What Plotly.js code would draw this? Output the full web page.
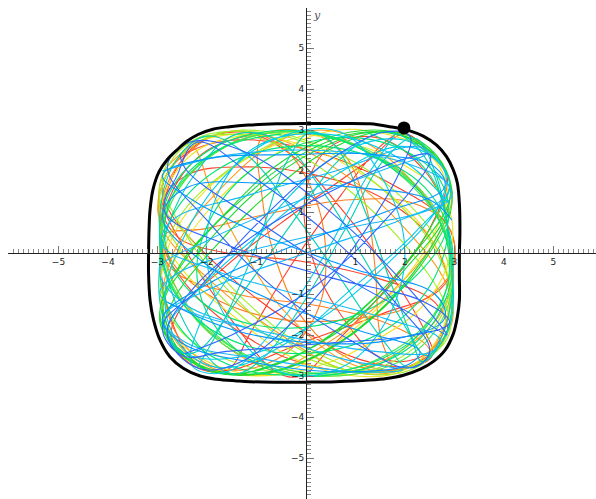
<!DOCTYPE html>
<html>
<head>
<meta charset="utf-8">
<script src="https://cdn.plot.ly/plotly-3.0.1.min.js"></script>
<style>
  html, body { margin: 0; padding: 0; background: #fff; }
  #plot { width: 596px; height: 499px; }
</style>
</head>
<body>
<div id="plot"></div>
<script>
// Tick labels on both axes (0 is left unlabelled)
const tickValues = [-5, -4, -3, -2, -1, 1, 2, 3, 4, 5];
const tickLabels = ['\u22125', '\u22124', '\u22123', '\u22122', '\u22121', '1', '2', '3', '4', '5'];

// Energy boundary curve (closed, clockwise from the top)
const boundary = [
  [0, 3.16], [0.6, 3.16], [1.29, 3.15], [1.70, 3.08], [2.10, 2.98], [2.37, 2.85],
  [2.64, 2.63], [2.84, 2.35], [2.98, 2.02], [3.06, 1.70], [3.10, 1.2], [3.11, 0.5],
  [3.10, 0], [3.10, -0.6], [3.10, -1.15], [3.06, -1.55], [2.98, -1.96], [2.81, -2.37],
  [2.57, -2.65], [2.30, -2.84], [1.97, -2.98], [1.63, -3.06], [1.29, -3.10], [0.6, -3.14],
  [0, -3.15], [-0.6, -3.15], [-1.13, -3.14], [-1.40, -3.12], [-1.80, -3.08], [-2.14, -3.0],
  [-2.48, -2.81], [-2.75, -2.53], [-2.95, -2.12], [-3.08, -1.63], [-3.15, -1.15], [-3.18, -0.5],
  [-3.18, 0], [-3.17, 0.6], [-3.15, 1.05], [-3.09, 1.55], [-2.97, 1.98], [-2.80, 2.28],
  [-2.60, 2.52], [-2.40, 2.73], [-2.18, 2.89], [-1.88, 3.02], [-1.54, 3.08], [-1.17, 3.12],
  [-0.6, 3.15], [0, 3.16]
];

// Starting point of the particle (at rest on the boundary)
const startPoint = [1.98, 3.05];

// Trajectory pieces, grouped by colour
const redPath = [
  [1.97, 3.02], [1.5, 2.6], [0.7, 1.4], [-0.3, -0.3], [-1.1, -1.9], [-1.6, -2.85], [-2.2, -2.7],
  [-2.7, -1.7], [-2.95, 0.1], [-2.75, 1.7], [-2.2, 2.65], [-1.3, 2.95], [-0.3, 2.4], [0.7, 1.1],
  [1.7, -0.5], [2.4, -1.9], [2.55, -2.5], [2.2, -2.75], [1.1, -2.6], [-0.3, -1.7], [-1.7, -0.4],
  [-2.75, 1.0], [-2.9, 1.6], [-2.5, 2.35], [-1.5, 2.75], [0.1, 2.5], [1.7, 1.7], [2.85, 0.7],
  [3.0, -0.2], [2.7, -0.9], [1.5, -1.5], [-0.1, -2.2], [-1.5, -2.85], [-2.1, -2.85], [-2.7, -2.2],
  [-2.6, -1.5], [-1.6, -0.3], [-0.2, 1.0], [1.2, 2.2], [2.0, 2.9], [2.5, 2.4], [2.85, 1.9],
  [2.5, 0.6], [1.6, -0.9], [0.5, -2.3], [-0.1, -3.0], [-0.6, -2.9], [-1.4, -1.8], [-2.3, -0.2],
  [-2.95, 1.2]
];

const redPath2 = [
  [2.9, 0.9], [2.4, 2.0], [1.5, 2.8], [0.5, 2.6], [0.0, 1.5], [0.1, 0.0], [0.7, -1.5],
  [1.6, -2.6], [2.5, -2.4], [2.9, -1.3], [2.6, 0.2], [1.6, 1.3], [0.2, 1.9], [-1.2, 2.1],
  [-2.4, 1.9], [-2.9, 1.2], [-2.6, 0.4], [-1.6, 0.0], [-0.1, -0.2], [1.4, -0.6], [2.6, -1.2],
  [2.85, -1.95], [2.2, -2.7], [1.0, -2.9], [-0.3, -2.6], [-1.5, -1.8], [-2.4, -0.8], [-2.9, 0.3],
  [-2.7, 1.5], [-2.0, 2.5], [-1.0, 2.9]
];

const orangePath = [
  [2.1, 2.85], [2.55, 2.4], [2.95, 1.5], [2.6, 0.3], [1.6, -1.1], [0.3, -2.3], [-0.8, -2.95],
  [-1.8, -2.85], [-2.6, -2.2], [-2.9, -1.2], [-2.6, 0.2], [-1.7, 1.6], [-0.6, 2.7], [0.3, 3.0],
  [1.2, 2.7], [2.1, 1.8], [2.9, 0.2], [2.9, -1.4], [2.5, -2.4], [1.8, -2.9], [0.8, -2.85],
  [-0.5, -2.0], [-2.0, -0.6], [-2.9, 0.6], [-2.95, 1.5], [-2.4, 2.5], [-1.6, 2.95], [-0.6, 2.8],
  [0.8, 1.9], [2.0, 0.6], [2.85, -0.8], [2.95, -1.7], [2.55, -2.35], [1.9, -2.85], [0.9, -2.7],
  [-0.3, -1.6], [-1.2, -0.1], [-1.9, 1.5], [-2.3, 2.6], [-2.55, 2.4], [-2.9, 1.9], [-2.95, 0.6],
  [-2.6, -0.9], [-1.8, -2.1], [-0.6, -2.9], [0.6, -2.95], [1.9, -2.4], [2.8, -1.3], [2.9, 0.0],
  [2.4, 1.4], [1.2, 2.5], [0.0, 3.0]
];

const orangePath2 = [
  [-2.9, -0.8], [-2.6, -2.0], [-1.8, -2.8], [-0.6, -2.6], [0.2, -1.5], [0.4, 0.0], [0.1, 1.6],
  [-0.6, 2.7], [-1.6, 2.95], [-2.4, 2.4], [-2.9, 1.3], [-2.8, 0.0], [-2.0, -1.0], [-0.6, -1.6],
  [1.0, -1.6], [2.3, -1.2], [2.95, -0.4], [2.9, 0.6], [2.2, 1.2], [0.9, 1.3], [-0.6, 1.0],
  [-2.0, 0.6], [-2.9, 0.4], [-2.7, -0.4], [-1.4, -1.0], [0.3, -1.3], [1.8, -1.8], [2.5, -2.4],
  [1.9, -2.85], [0.9, -2.6], [0.0, -1.7], [-0.6, -0.2], [-0.9, 1.5], [-0.9, 2.8], [-0.2, 3.0],
  [0.7, 2.5], [1.2, 1.2], [1.4, -0.4], [1.5, -2.0], [1.8, -2.9]
];

const yellowPath = [
  [-2.5, 2.6], [-1.4, 2.9], [0.0, 2.6], [1.4, 1.7], [2.5, 0.4], [2.9, -0.8], [2.7, -2.0],
  [2.0, -2.85], [1.0, -3.0], [-0.2, -2.6], [-1.4, -1.6], [-2.5, -0.4], [-2.95, 0.6], [-2.8, 1.6],
  [-2.2, 2.5], [-1.0, 2.9], [0.5, 2.8], [1.9, 2.2], [2.8, 1.3], [2.95, 0.2], [2.5, -1.1],
  [1.3, -2.2], [-0.2, -2.9], [-1.5, -2.95], [-2.5, -2.5], [-2.9, -1.5], [-2.7, -0.3], [-2.0, 1.0],
  [-0.9, 2.2], [0.4, 2.95], [1.4, 2.95], [2.4, 2.5], [2.85, 1.6], [2.6, 0.5], [1.8, -0.9],
  [0.7, -2.1], [-0.6, -2.95], [-1.9, -2.7], [-2.8, -1.8], [-2.9, -0.4], [-2.4, 1.0], [-1.2, 2.3],
  [0.2, 2.95]
];

const limePath = [
  [2.9, -1.8], [2.3, -2.75], [1.2, -2.95], [-0.2, -2.3], [-1.5, -1.0], [-2.5, 0.6], [-2.9, 1.8],
  [-2.5, 2.6], [-1.5, 2.9], [-0.3, 2.5], [0.9, 1.5], [2.0, 0.2], [2.8, -1.2], [2.9, -1.95],
  [2.4, -2.6], [1.4, -2.9], [0.0, -2.3], [-1.2, -1.2], [-2.3, 0.3], [-2.95, 1.3], [-2.8, 2.1],
  [-2.2, 2.8], [-1.0, 2.95], [0.4, 2.5], [1.6, 1.5], [2.6, 0.1], [2.95, -1.2], [2.7, -2.3],
  [1.9, -2.85], [0.6, -2.8], [-0.8, -2.0], [-2.0, -0.7], [-2.85, 0.7], [-2.95, 1.4], [-2.6, 2.3],
  [-1.8, 2.9], [-0.7, 2.95], [0.7, 2.4], [1.9, 1.4], [2.8, 0.0], [2.9, -1.0], [2.3, -2.2],
  [1.2, -2.9], [-0.3, -2.95], [-1.6, -2.6], [-2.6, -1.8], [-2.95, -0.6], [-2.6, 0.8], [-1.6, 2.0],
  [-0.3, 2.9]
];

const greenPath = [
  [-2.9, -1.3], [-2.6, -2.3], [-1.9, -2.9], [-0.8, -2.8], [0.5, -2.0], [1.7, -0.7], [2.6, 0.8],
  [2.9, 1.8], [2.45, 2.45], [1.7, 2.95], [0.6, 2.6], [-0.6, 1.6], [-1.8, 0.2], [-2.7, -1.2],
  [-2.85, -1.95], [-2.4, -2.6], [-1.5, -2.95], [-0.2, -2.5], [1.1, -1.4], [2.2, 0.0], [2.9, 1.3],
  [2.8, 2.05], [2.2, 2.75], [1.2, 2.95], [-0.1, 2.4], [-1.3, 1.3], [-2.4, -0.1], [-2.95, -1.4],
  [-2.7, -2.2], [-2.0, -2.85], [-0.9, -2.95], [0.4, -2.4], [1.6, -1.3], [2.6, 0.2], [2.95, 1.2],
  [2.75, 2.2], [2.1, 2.85], [0.9, 2.95], [-0.4, 2.3], [-1.6, 1.0], [-2.6, -0.4], [-2.95, -1.7],
  [-2.45, -2.45], [-1.7, -2.95], [-0.4, -2.6], [0.9, -1.7], [2.0, -0.4], [2.85, 1.0], [2.85, 1.95],
  [2.3, 2.65], [1.4, 2.95], [0.2, 2.5], [-1.0, 1.5], [-2.1, 0.1], [-2.85, -1.1], [-2.8, -2.05],
  [-2.2, -2.7], [-1.1, -2.95], [0.2, -2.5], [1.4, -1.5], [2.4, -0.1], [2.9, 1.0]
];

const greenLoopPath = [
  [2.9, -1.0], [2.0, -2.2], [0.6, -2.9], [-0.8, -2.7], [-2.0, -1.8], [-2.8, -0.4], [-2.9, 0.8],
  [-2.3, 2.0], [-1.2, 2.8], [0.2, 2.9], [1.5, 2.3], [2.5, 1.2], [2.95, -0.2], [2.8, -1.5],
  [2.1, -2.5], [1.0, -2.95], [-0.4, -2.9], [-1.7, -2.2], [-2.6, -1.0], [-2.95, 0.2], [-2.6, 1.5],
  [-1.8, 2.5], [-0.6, 2.95], [0.8, 2.7], [2.0, 1.8], [2.8, 0.5], [2.9, -0.6], [2.4, -1.8],
  [1.5, -2.7], [0.2, -2.95], [-1.2, -2.5], [-2.3, -1.5], [-2.9, -0.3], [-2.8, 1.0], [-2.1, 2.2],
  [-0.9, 2.9], [0.5, 2.85], [1.8, 2.1], [2.7, 0.9], [2.95, -0.4]
];

const springPath = [
  [-0.5, 2.9], [-1.8, 2.5], [-2.7, 1.4], [-2.8, 0.0], [-2.1, -1.2], [-0.8, -1.8], [0.8, -1.6],
  [2.1, -0.7], [2.85, 0.6], [2.7, 1.8], [1.8, 2.6], [0.5, 2.8], [-0.9, 2.2], [-1.9, 0.9],
  [-2.2, -0.6], [-1.7, -2.0], [-0.6, -2.9], [0.9, -2.9], [2.1, -2.3], [2.8, -1.2], [2.95, 0.2],
  [2.4, 1.6], [1.2, 2.4], [-0.3, 2.6], [-1.7, 2.1], [-2.7, 0.9], [-2.95, -0.5], [-2.5, -1.9],
  [-1.4, -2.8], [0.1, -2.95], [1.5, -2.6], [2.5, -1.7], [2.9, -0.4], [2.6, 1.0], [1.7, 2.1],
  [0.3, 2.9], [-1.1, 2.9], [-2.2, 2.3], [-2.85, 1.2], [-2.9, -0.2], [-2.3, -1.5], [-1.1, -2.3],
  [0.4, -2.4], [1.7, -1.8], [2.6, -0.6], [2.85, 0.8], [2.3, 2.2], [1.2, 2.95]
];

const tealPath = [
  [-2.2, -2.8], [-1.6, -1.5], [-0.9, 0.5], [-0.4, 2.2], [0.1, 2.95], [0.6, 2.6], [1.2, 1.0],
  [1.8, -1.0], [2.3, -2.4], [2.45, -2.5], [2.9, -1.8], [2.9, 0.2], [2.6, 2.0], [2.2, 2.8],
  [1.6, 2.3], [0.8, 0.6], [-0.1, -1.3], [-0.9, -2.6], [-1.5, -2.95], [-2.2, -2.2], [-2.8, -0.6],
  [-2.95, 1.0], [-2.6, 2.3], [-2.0, 2.85], [-1.2, 2.4], [-0.2, 0.9], [0.8, -0.8], [1.6, -2.2],
  [2.1, -2.8], [2.6, -2.35], [2.95, -1.0], [2.8, 1.0], [2.3, 2.5], [1.6, 2.95], [0.7, 2.3],
  [-0.3, 0.7], [-1.3, -1.0], [-2.2, -2.4], [-2.55, -2.4], [-2.95, -1.2], [-2.8, 0.6], [-2.2, 2.0],
  [-1.4, 2.9], [-0.5, 2.7], [0.4, 1.4], [1.3, -0.4], [2.1, -2.0], [2.35, -2.65], [2.85, -1.9],
  [2.95, -0.5]
];

const cyanPath = [
  [2.9, 1.2], [1.9, 2.3], [0.4, 2.9], [-1.0, 2.6], [-1.8, 1.4], [-2.0, -0.2], [-1.5, -1.8],
  [-0.5, -2.9], [0.7, -2.8], [1.6, -1.7], [2.0, 0.0], [1.6, 1.7], [0.7, 2.95], [-0.6, 2.8],
  [-1.7, 1.8], [-2.5, 0.3], [-2.85, -1.2], [-2.5, -2.3], [-1.7, -2.8], [-0.4, -2.2], [0.9, -0.9],
  [2.2, 0.5], [2.9, 1.6], [2.6, 2.3], [1.9, 2.6], [0.6, 1.9], [-0.8, 0.6], [-2.1, -0.8],
  [-2.8, -1.9], [-2.45, -2.45], [-1.2, -2.5], [0.3, -1.6], [1.7, -0.2], [2.7, 1.2], [2.8, 2.0],
  [2.0, 2.75], [0.8, 2.5], [-0.4, 1.3], [-1.4, -0.3], [-2.2, -1.9], [-2.3, -2.75], [-1.6, -2.9],
  [-0.6, -1.8], [0.4, 0.0], [1.2, 1.8], [1.8, 2.9]
];

const skyPath = [
  [-2.9, 2.0], [-1.5, 2.4], [0.3, 2.5], [2.0, 2.2], [2.9, 1.6], [2.5, 1.1], [0.8, 0.6],
  [-1.0, 0.1], [-2.6, -0.5], [-2.95, -1.0], [-2.2, -1.5], [-0.5, -2.0], [1.4, -2.4], [2.55, -2.4],
  [2.7, -2.1], [1.6, -1.6], [-0.2, -1.0], [-1.9, -0.4], [-2.9, 0.2], [-2.7, 0.8], [-1.2, 1.4],
  [0.6, 2.0], [2.2, 2.6], [2.45, 2.45], [1.5, 2.0], [-0.3, 1.2], [-2.0, 0.3], [-2.95, -0.4],
  [-2.5, -1.2], [-1.0, -1.9], [0.8, -2.6], [1.95, -2.85], [1.0, -2.9], [-0.8, -2.6], [-2.4, -2.2],
  [-2.9, -1.6], [-1.8, -0.8], [0.0, 0.0], [1.9, 0.8], [2.95, 1.4], [2.6, 2.0]
];

const bluePath = [
  [-2.45, -2.45], [-1.5, -2.0], [0.2, -0.8], [1.6, 0.8], [2.5, 2.2], [2.5, 2.4], [2.0, 2.3],
  [0.5, 1.5], [-1.2, 0.3], [-2.5, -1.2], [-2.8, -2.0], [-2.2, -2.8], [-1.4, -2.7], [-0.2, -1.6],
  [1.0, 0.2], [1.9, 2.0], [2.1, 2.85], [1.6, 2.95], [0.4, 2.2], [-1.0, 0.7], [-2.2, -0.9],
  [-2.9, -1.8], [-2.5, -2.5], [-1.6, -2.4], [0.4, -2.2], [2.2, -2.0], [2.9, -1.7], [2.4, -1.2],
  [0.5, -0.6], [-1.6, 0.2], [-2.85, 1.0], [-2.6, 1.9], [-2.2, 2.7], [-1.0, 1.8], [0.5, 0.4],
  [1.8, -1.2], [2.5, -2.4], [2.1, -2.8], [1.0, -2.2], [-0.6, -0.9], [-2.0, 0.8], [-2.8, 2.1],
  [-2.35, 2.7], [-1.3, 2.5], [0.4, 1.1], [1.8, -0.5], [2.8, -1.9], [2.85, -2.0], [2.3, -1.6],
  [0.8, -0.6], [-1.0, 0.8], [-2.4, 2.0], [-2.55, 2.4]
];

const bluePath2 = [
  [-2.8, -1.2], [-1.4, -1.9], [0.3, -2.2], [1.8, -2.1], [2.8, -1.6], [2.6, -1.0], [1.0, -0.4],
  [-0.8, 0.4], [-2.3, 1.3], [-2.9, 1.9], [-2.0, 2.3], [-0.3, 2.4], [1.4, 2.4], [2.6, 2.1],
  [2.8, 1.6], [1.6, 1.0], [-0.2, 0.2], [-1.9, -0.7], [-2.9, -1.6], [-2.5, -2.2], [-0.9, -2.7],
  [0.9, -2.9], [2.1, -2.7], [2.3, -2.4], [1.1, -1.9], [-0.6, -1.2], [-2.1, -0.2], [-2.9, 0.9],
  [-2.4, 1.6], [-0.8, 1.7], [1.0, 1.6], [2.5, 1.3], [2.95, 0.8]
];

const pathColors = [
  [redPath, 'rgb(255,60,40)'],
  [redPath2, 'rgb(250,70,45)'],
  [orangePath, 'rgb(255,155,25)'],
  [orangePath2, 'rgb(255,125,30)'],
  [yellowPath, 'rgb(240,228,30)'],
  [limePath, 'rgb(160,238,40)'],
  [greenPath, 'rgb(30,218,50)'],
  [greenLoopPath, 'rgb(70,232,80)'],
  [springPath, 'rgb(0,228,120)'],
  [tealPath, 'rgb(0,210,180)'],
  [cyanPath, 'rgb(0,205,235)'],
  [skyPath, 'rgb(20,185,250)'],
  [bluePath, 'rgb(45,100,255)'],
  [bluePath2, 'rgb(0,150,255)']
];

const traces = pathColors.map(([pts, color]) => ({
  type: 'scatter',
  mode: 'lines',
  x: pts.map(p => p[0]),
  y: pts.map(p => p[1]),
  line: { color: color, width: 1.1, shape: 'spline', smoothing: 1.1 },
  hoverinfo: 'skip'
}));

traces.push({
  type: 'scatter',
  mode: 'lines',
  x: boundary.map(p => p[0]),
  y: boundary.map(p => p[1]),
  line: { color: '#000', width: 3, shape: 'spline', smoothing: 1 },
  hoverinfo: 'skip'
});

traces.push({
  type: 'scatter',
  mode: 'markers',
  x: [startPoint[0]],
  y: [startPoint[1]],
  marker: { color: '#000', size: 13 },
  hoverinfo: 'skip'
});

const xRange = [-6.02, 5.86];
const yRange = [-6.0, 5.976];

const tickFont = { family: 'DejaVu Sans, sans-serif', size: 9, color: '#222' };

const layout = {
  width: 596,
  height: 499,
  margin: { l: 8, r: 0, t: 8, b: 0 },
  paper_bgcolor: '#fff',
  plot_bgcolor: '#fff',
  showlegend: false,
  xaxis: {
    range: xRange,
    anchor: 'free',
    position: (0 - yRange[0]) / (yRange[1] - yRange[0]),
    showgrid: false,
    zeroline: false,
    showline: true,
    linecolor: '#222',
    linewidth: 1,
    ticks: 'inside',
    ticklen: 7,
    tickcolor: '#777',
    tickwidth: 1,
    tickmode: 'array',
    tickvals: tickValues,
    ticktext: tickLabels,
    tickfont: tickFont,
    automargin: false,
    fixedrange: true,
    minor: { ticks: 'inside', ticklen: 4, tickcolor: '#888', tickmode: 'linear', tick0: 0, dtick: 0.1, showgrid: false }
  },
  yaxis: {
    range: yRange,
    anchor: 'free',
    position: (0 - xRange[0]) / (xRange[1] - xRange[0]),
    showgrid: false,
    zeroline: false,
    showline: true,
    linecolor: '#222',
    linewidth: 1,
    ticks: 'inside',
    ticklen: 7,
    tickcolor: '#777',
    tickwidth: 1,
    tickmode: 'array',
    tickvals: tickValues,
    ticktext: tickLabels,
    tickfont: tickFont,
    automargin: false,
    fixedrange: true,
    minor: { ticks: 'inside', ticklen: 4, tickcolor: '#888', tickmode: 'linear', tick0: 0, dtick: 0.1, showgrid: false }
  },
  annotations: [
    {
      text: '<i>y</i>', xref: 'paper', yref: 'paper',
      x: 0.526, y: 0.985, xanchor: 'center', yanchor: 'middle',
      showarrow: false, font: { family: 'DejaVu Serif, serif', size: 11, color: '#555' }
    }
  ]
};

Plotly.newPlot('plot', traces, layout, { displayModeBar: false, staticPlot: true });
</script>
</body>
</html>
